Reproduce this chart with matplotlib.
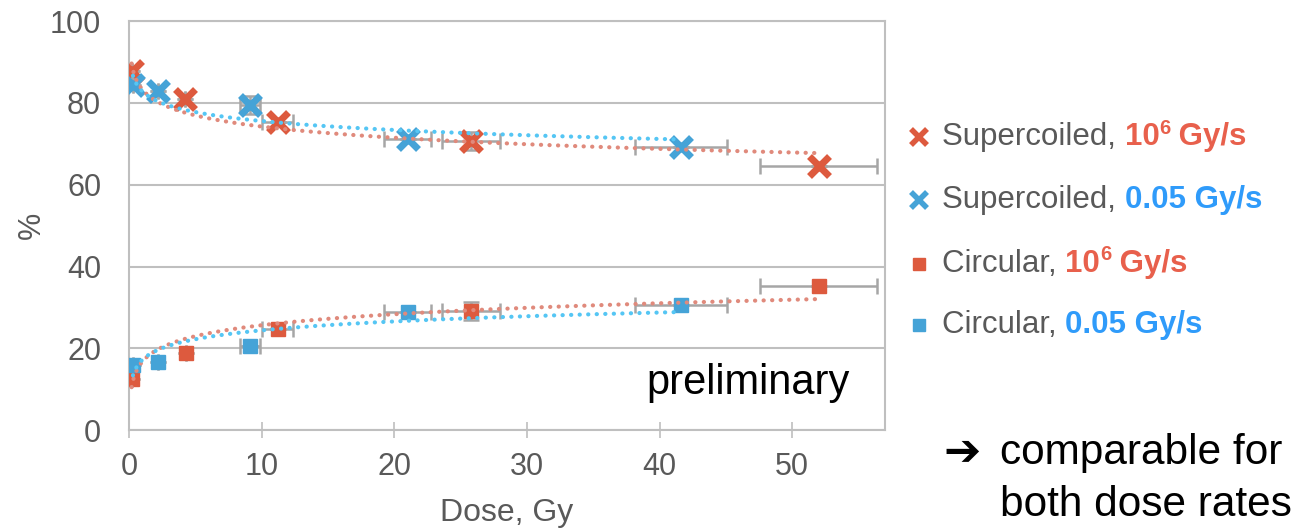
import numpy as np
import matplotlib
matplotlib.use("Agg")
import matplotlib.pyplot as plt
from matplotlib.lines import Line2D

plt.rcParams['font.family'] = ['Liberation Sans', 'DejaVu Sans']

# Supercoiled, 10^6 Gy/s
sc_fast_dose = [0.2, 4.2, 11.2, 25.8, 52.0]
sc_fast_val = [87.7, 80.9, 75.4, 70.7, 64.6]
sc_fast_xerr = [0.0, 0.0, 1.2, 2.2, 4.4]
sc_fast_yerr = [0.0, 0.0, 0.0, 2.2, 0.0]

# Supercoiled, 0.05 Gy/s
sc_slow_dose = [0.3, 2.2, 9.1, 21.0, 41.6]
sc_slow_val = [84.3, 82.9, 79.5, 71.3, 69.2]
sc_slow_xerr = [0.0, 0.0, 0.75, 1.8, 3.45]
sc_slow_yerr = [0.0, 0.0, 2.1, 0.0, 0.0]

# Circular, 10^6 Gy/s
circ_fast_dose = [0.2, 4.3, 11.2, 25.8, 52.0]
circ_fast_val = [12.5, 18.8, 24.7, 29.1, 35.2]
circ_fast_xerr = [0.0, 0.0, 1.2, 2.2, 4.4]
circ_fast_yerr = [0.0, 0.0, 0.0, 2.3, 0.0]

# Circular, 0.05 Gy/s
circ_slow_dose = [0.3, 2.2, 9.1, 21.0, 41.6]
circ_slow_val = [15.9, 16.7, 20.6, 28.9, 30.6]
circ_slow_xerr = [0.0, 0.0, 0.75, 1.8, 3.45]
circ_slow_yerr = [0.0, 0.0, 0.0, 0.0, 0.0]

RED = '#DD5A3E'
BLUE = '#45A3D7'
RED_TREND = '#E08A7C'
BLUE_TREND = '#55C6F4'
GRAY_TXT = '#595959'
GRID = '#BFBFBF'


def log_trend(ax, x, y, color):
    # Excel-style logarithmic trendline, drawn from min to max dose
    a, b = np.polyfit(np.log(x), y, 1)
    xs = np.linspace(min(x), max(x), 400)
    ax.plot(xs, a * np.log(xs) + b, color=color, lw=3.0,
            linestyle=(0, (0.05, 2.0)), dash_capstyle='round', zorder=5)


fig = plt.figure(figsize=(13.16, 5.29), dpi=100)
ax = fig.add_axes([0.098, 0.187, 0.5745, 0.773])

series = [
    (sc_fast_dose, sc_fast_val, sc_fast_xerr, sc_fast_yerr, RED, 'x', RED_TREND),
    (sc_slow_dose, sc_slow_val, sc_slow_xerr, sc_slow_yerr, BLUE, 'x', BLUE_TREND),
    (circ_fast_dose, circ_fast_val, circ_fast_xerr, circ_fast_yerr, RED, 's', RED_TREND),
    (circ_slow_dose, circ_slow_val, circ_slow_xerr, circ_slow_yerr, BLUE, 's', BLUE_TREND),
]

for dose, val, xerr, yerr, col, mk, tcol in series:
    if mk == 'x':
        ax.plot(dose, val, ls='none', marker='x', ms=14, mew=5, color=col, zorder=3)
    else:
        ax.plot(dose, val, ls='none', marker='s', ms=10.5, color=col, mec=col, zorder=3)
    ax.errorbar(dose, val, xerr=xerr, yerr=yerr, fmt='none', ecolor='#A6A6A6',
                elinewidth=1.8, capsize=6, capthick=1.8, zorder=2)
    log_trend(ax, dose, val, tcol)

ax.set_xlim(0, 57)
ax.set_ylim(0, 100)
ax.set_xticks([0, 10, 20, 30, 40, 50])
ax.set_yticks([0, 20, 40, 60, 80, 100])
ax.yaxis.grid(True, color=GRID, lw=1.5, zorder=0)
ax.set_axisbelow(True)
for s in ['left', 'bottom', 'right', 'top']:
    ax.spines[s].set_color(GRID)
    ax.spines[s].set_linewidth(1.5)
ax.tick_params(axis='x', direction='inout', length=12, width=1.2, color=GRID,
               labelsize=22, labelcolor=GRAY_TXT, pad=10)
ax.tick_params(axis='y', length=0, labelsize=22, labelcolor=GRAY_TXT, pad=20)
ax.set_xlabel('Dose, Gy', fontsize=23, color=GRAY_TXT)
ax.set_ylabel('%', fontsize=22, color=GRAY_TXT)
ax.xaxis.set_label_coords(0.5, -0.165)
ax.yaxis.set_label_coords(-0.108, 0.5)

ax.text(0.954, 0.115, 'preliminary', transform=ax.transAxes, ha='right',
        va='center', fontsize=30, color='black')

# legend drawn by hand (mixed colours in one label)
renderer = fig.canvas.get_renderer()
W, H = fig.bbox.width, fig.bbox.height
legend_rows = [
    ('x', RED, 'Supercoiled, ', '10', '6', ' Gy/s', '#E8604C'),
    ('x', BLUE, 'Supercoiled, ', '0.05 Gy/s', None, None, '#2F9BFA'),
    ('s', RED, 'Circular, ', '10', '6', ' Gy/s', '#E8604C'),
    ('s', BLUE, 'Circular, ', '0.05 Gy/s', None, None, '#2F9BFA'),
]
row_y = [137, 200, 264, 325]
for (mk, mcol, base, bold1, sup, bold2, tcol), ypx in zip(legend_rows, row_y):
    yf = 1 - ypx / H
    if mk == 'x':
        fig.add_artist(Line2D([919 / W], [yf], marker='x', ms=11, mew=4, color=mcol))
    else:
        fig.add_artist(Line2D([919 / W], [yf], marker='s', ms=9, color=mcol))
    xf = 942 / W
    t = fig.text(xf, yf, base, fontsize=22.5, color=GRAY_TXT, va='center')
    xf += t.get_window_extent(renderer).width / W
    t = fig.text(xf, yf, bold1, fontsize=22.5, color=tcol, va='center', fontweight='bold')
    xf += t.get_window_extent(renderer).width / W
    if sup:
        t = fig.text(xf, yf + 9 / H, sup, fontsize=14.5, color=tcol, va='center',
                     fontweight='bold')
        xf += t.get_window_extent(renderer).width / W
        fig.text(xf, yf, bold2, fontsize=22.5, color=tcol, va='center', fontweight='bold')

fig.text(943 / W, 1 - 452 / H, '\u2794', fontsize=32, fontweight='bold',
         family='DejaVu Sans', color='black', va='center')
fig.text(1000 / W, 1 - 453 / H, 'comparable for', fontsize=30.5, color='black', va='center')
fig.text(1000 / W, 1 - 505 / H, 'both dose rates', fontsize=30.5, color='black', va='center')

fig.savefig('out.png', dpi=100)
